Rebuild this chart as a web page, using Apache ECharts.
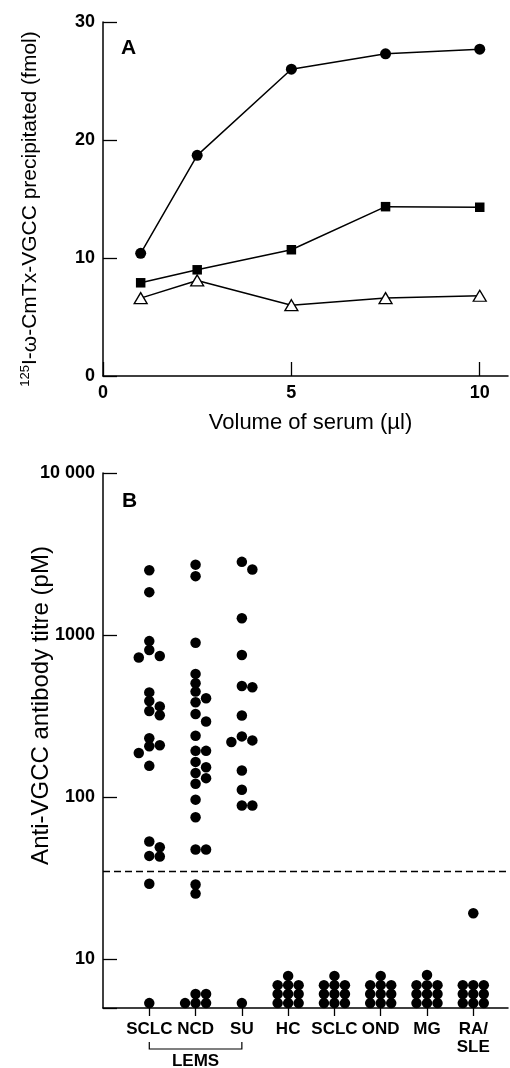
<!DOCTYPE html>
<html><head><meta charset="utf-8">
<script src="https://cdn.jsdelivr.net/npm/echarts@6/dist/echarts.min.js"></script>
<style>html,body{margin:0;padding:0;background:#fff}#c{width:510px;height:1068px}</style>
</head><body><div id="c"></div>
<script>
// ---------- Panel A data ----------
const volumes = [1, 2.5, 5, 7.5, 10];
const seriesCircle = [10.4, 18.7, 26.0, 27.3, 27.7];
const seriesSquare = [7.9, 9.0, 10.7, 14.35, 14.3];
const seriesTriangle = [6.6, 8.1, 6.0, 6.6, 6.8];
const xTicksA = [0, 5, 10];

// ---------- Panel B data ----------
const groupLabels = ['SCLC', 'NCD', 'SU', 'HC', 'SCLC', 'OND', 'MG', 'RA/\nSLE'];
const lemsSCLC = [2510, 1840, 918, 809, 743, 727, 443, 392, 363, 340, 320, 231, 209, 206, 187, 156, 53.2, 49.1, 43.4, 43.0, 29.2, 5.36];
const lemsNCD = [2720, 2310, 897, 576, 504, 448, 408, 385, 326, 293, 239, 193, 193, 165, 153, 141, 131, 121, 96.5, 75.1, 47.5, 47.5, 28.9, 25.4, 6.1, 6.1, 5.36, 5.36, 5.36];
const lemsSU = [2830, 2540, 1270, 753, 485, 477, 319, 237, 224, 219, 146, 111, 88.7, 88.7, 5.36];
const ctrlHC = [7.89, 6.92, 6.92, 6.92, 6.1, 6.1, 6.1, 5.36, 5.36, 5.36];
const ctrlSCLC = [7.89, 6.92, 6.92, 6.92, 6.1, 6.1, 6.1, 5.36, 5.36, 5.36];
const ctrlOND = [7.89, 6.92, 6.92, 6.92, 6.1, 6.1, 6.1, 5.36, 5.36, 5.36];
const ctrlMG = [8.0, 6.92, 6.92, 6.92, 6.1, 6.1, 6.1, 5.36, 5.36, 5.36];
const ctrlRASLE = [19.2, 6.92, 6.92, 6.92, 6.1, 6.1, 6.1, 5.36, 5.36, 5.36];
const cutoff = 35;
const bracketLabel = 'LEMS';

const groups = [lemsSCLC, lemsNCD, lemsSU, ctrlHC, ctrlSCLC, ctrlOND, ctrlMG, ctrlRASLE];

// ---------- layout ----------
const W = 510;
const gridA = { left: 103, right: 2, top: 22, height: 354 };
const gridB = { left: 103, right: 2, top: 473, height: 535 };
const yMinB = 5, yMaxB = 10000, xMaxA = 10.75, xMaxB = 8.75;
const SLOT_PX = 10.5, GAP_PX = 8;
const FONT = 'Liberation Sans, Arial, Helvetica, sans-serif';

// simple beeswarm layout: place each dot in the nearest free column slot
function swarm(values, center) {
  const lmin = Math.log10(yMinB), lmax = Math.log10(yMaxB);
  const pxPerX = (W - gridB.left - gridB.right) / xMaxB;
  const placed = [];
  return values.slice().sort((a, b) => b - a).map(v => {
    const py = gridB.height * (lmax - Math.log10(v)) / (lmax - lmin);
    for (const s of [0, 1, -1, 2, -2, 3, -3]) {
      if (!placed.some(p => p.s === s && Math.abs(p.py - py) < GAP_PX)) {
        placed.push({ s, py });
        return [center + s * SLOT_PX / pxPerX, v];
      }
    }
  });
}
const dotsB = [];
groups.forEach((g, i) => swarm(g, i + 1).forEach(p => dotsB.push(p)));

const black = '#000';
const tickLabel = { color: black, fontSize: 18, fontWeight: 'bold', fontFamily: FONT };

const chart = echarts.init(document.getElementById('c'), null, { renderer: 'canvas' });
chart.setOption({
  animation: false,
  backgroundColor: '#fff',
  grid: [gridA, gridB],
  xAxis: [
    {
      gridIndex: 0, type: 'value', min: 0, max: xMaxA, interval: 5,
      axisLine: { lineStyle: { color: black, width: 1.5 } },
      axisTick: { inside: true, length: 14, lineStyle: { color: black, width: 1.3 }, customValues: xTicksA },
      axisLabel: Object.assign({ margin: 8, customValues: xTicksA }, tickLabel),
      splitLine: { show: false },
      name: 'Volume of serum (µl)', nameLocation: 'middle', nameGap: 36, nameMoveOverlap: false,
      nameTextStyle: { color: black, fontSize: 22, fontFamily: FONT, padding: [0, 0, 0, 10] }
    },
    {
      gridIndex: 1, type: 'value', min: 0, max: xMaxB, interval: 1,
      axisLine: { lineStyle: { color: black, width: 1.5 } },
      axisTick: { inside: false, length: 8, lineStyle: { color: black, width: 1.3 }, customValues: [1, 2, 3, 4, 5, 6, 7, 8] },
      axisLabel: Object.assign({ margin: 12, lineHeight: 18, customValues: [1, 2, 3, 4, 5, 6, 7, 8],
        formatter: v => groupLabels[Math.round(v) - 1] || '' }, tickLabel, { fontSize: 17 }),
      splitLine: { show: false }
    }
  ],
  yAxis: [
    {
      gridIndex: 0, type: 'value', min: 0, max: 30, interval: 10,
      axisLine: { show: true, lineStyle: { color: black, width: 1.5 } },
      axisTick: { show: true, inside: true, length: 14, lineStyle: { color: black, width: 1.3 } },
      axisLabel: Object.assign({ margin: 8 }, tickLabel),
      splitLine: { show: false },
      name: '{s|125}{n|I-ω-CmTx-VGCC precipitated (fmol)}',
      nameLocation: 'middle', nameRotate: 90, nameGap: 62, nameMoveOverlap: false,
      nameTextStyle: {
        color: black, fontFamily: FONT, padding: [0, 20, 0, 0],
        rich: {
          s: { fontSize: 13, fontFamily: FONT, color: black, padding: [0, 0, 9, 0] },
          n: { fontSize: 21, fontFamily: FONT, color: black }
        }
      }
    },
    {
      gridIndex: 1, type: 'log', logBase: 10, min: yMinB, max: yMaxB,
      axisLine: { show: true, lineStyle: { color: black, width: 1.5 } },
      axisTick: { show: true, inside: true, length: 14, lineStyle: { color: black, width: 1.3 } },
      axisLabel: Object.assign({ margin: 8, formatter: v => {
        const l = Math.log10(v);
        if (Math.abs(l - Math.round(l)) > 1e-6) return '';
        return v >= 10000 ? '10 000' : String(Math.round(v));
      } }, tickLabel),
      splitLine: { show: false },
      name: 'Anti-VGCC antibody titre (pM)', nameLocation: 'middle', nameRotate: 90, nameGap: 50,
      nameMoveOverlap: false,
      nameTextStyle: { color: black, fontSize: 24, fontFamily: FONT, padding: [0, 0, 0, 70] }
    }
  ],
  series: [
    {
      type: 'line', xAxisIndex: 0, yAxisIndex: 0,
      data: volumes.map((v, i) => [v, seriesCircle[i]]),
      symbol: 'circle', symbolSize: 11,
      lineStyle: { color: black, width: 1.5 }, itemStyle: { color: black }
    },
    {
      type: 'line', xAxisIndex: 0, yAxisIndex: 0,
      data: volumes.map((v, i) => [v, seriesSquare[i]]),
      symbol: 'rect', symbolSize: 9.5,
      lineStyle: { color: black, width: 1.5 }, itemStyle: { color: black }
    },
    {
      type: 'line', xAxisIndex: 0, yAxisIndex: 0,
      data: volumes.map((v, i) => [v, seriesTriangle[i]]),
      symbol: 'triangle', symbolSize: [13, 11],
      lineStyle: { color: black, width: 1.5 },
      itemStyle: { color: '#fff', borderColor: black, borderWidth: 1.3 }
    },
    {
      type: 'scatter', xAxisIndex: 1, yAxisIndex: 1,
      data: dotsB, symbol: 'circle', symbolSize: 10.5,
      itemStyle: { color: black, opacity: 1 },
      markLine: {
        silent: true, symbol: ['none', 'none'], label: { show: false },
        lineStyle: { color: black, type: [7, 4], width: 1.3 },
        data: [{ yAxis: cutoff }]
      }
    }
  ]
});

// panel letters and LEMS bracket (bracket ends at group positions 1 and 3)
const bx1 = chart.convertToPixel({ xAxisIndex: 1 }, 1);
const bx3 = chart.convertToPixel({ xAxisIndex: 1 }, 3);
const bx2 = chart.convertToPixel({ xAxisIndex: 1 }, 2);
const yb = 1049, yt = 1042;
chart.setOption({
  graphic: [
    { type: 'text', left: 121, top: 38, style: { text: 'A', fill: black, font: 'bold 21px ' + FONT } },
    { type: 'text', left: 122, top: 491, style: { text: 'B', fill: black, font: 'bold 21px ' + FONT } },
    { type: 'polyline', shape: { points: [[bx1, yt], [bx1, yb], [bx3, yb], [bx3, yt]] },
      style: { stroke: black, lineWidth: 1.2, fill: null } },
    { type: 'text', x: bx2, y: 1061, style: { text: bracketLabel, fill: black, font: 'bold 17px ' + FONT, align: 'center', verticalAlign: 'middle' } }
  ]
});
</script>
</body></html>
